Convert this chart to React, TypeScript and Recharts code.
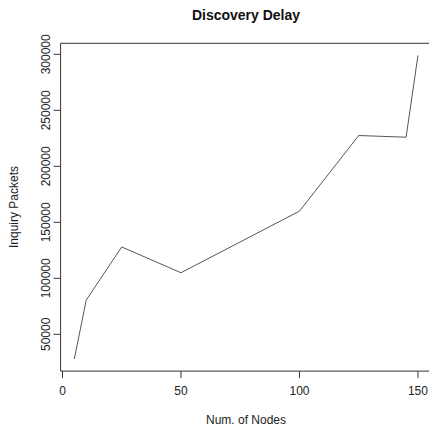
import React from "react";
import { LineChart, Line, XAxis, YAxis, ReferenceArea } from "recharts";

const nodes = [5, 10, 25, 50, 100, 125, 145, 150];
const packets = [28000, 80500, 128000, 105000, 160000, 227500, 226000, 299000];
const xTicks = [0, 50, 100, 150];
const yTicks = [50000, 100000, 150000, 200000, 250000, 300000];

const data = nodes.map((n, i) => ({ nodes: n, packets: packets[i] }));

// R style: axis range padded by 4% on each side
const xDomain: [number, number] = [-0.8, 155.8];
const yDomain: [number, number] = [17160, 309840];

const font = "'Liberation Sans', Arial, sans-serif";
const ink = "#333";

const XTick = (props: any) => {
  const { x, y, payload } = props;
  return (
    <text x={x} y={y} dy={14.5} textAnchor="middle" fontSize={12} fontFamily={font} fill="#222">
      {payload.value}
    </text>
  );
};

const YTick = (props: any) => {
  const { x, y, payload } = props;
  const bx = x - 1.5;
  return (
    <text
      x={bx}
      y={y}
      transform={`rotate(-90, ${bx}, ${y})`}
      textAnchor="middle"
      fontSize={12}
      fontFamily={font}
      fill="#222"
    >
      {payload.value}
    </text>
  );
};

export default function App() {
  return (
    <div
      style={{
        position: "absolute",
        left: 0,
        top: 0,
        width: 429,
        height: 427,
        overflow: "hidden",
        background: "#fff",
      }}
    >
      <LineChart
        width={440}
        height={427}
        data={data}
        margin={{ top: 43.3, right: 8.3, bottom: 25.9, left: 0 }}
      >
        <XAxis
          dataKey="nodes"
          type="number"
          domain={xDomain}
          ticks={xTicks}
          interval={0}
          allowDataOverflow
          axisLine={false}
          tickLine={{ stroke: ink }}
          tickSize={7}
          tickMargin={2}
          height={30}
          tick={<XTick />}
        />
        <YAxis
          type="number"
          domain={yDomain}
          ticks={yTicks}
          interval={0}
          allowDataOverflow
          axisLine={false}
          tickLine={{ stroke: ink }}
          tickSize={7}
          tickMargin={2}
          width={60.6}
          tick={<YTick />}
        />
        <ReferenceArea
          x1={xDomain[0]}
          x2={xDomain[1]}
          y1={yDomain[0]}
          y2={yDomain[1]}
          fill="none"
          fillOpacity={0}
          stroke={ink}
          strokeWidth={1}
        />
        <Line
          type="linear"
          dataKey="packets"
          stroke="#555"
          strokeWidth={1}
          dot={false}
          isAnimationActive={false}
        />
      </LineChart>
      <svg
        width={429}
        height={427}
        style={{ position: "absolute", left: 0, top: 0, pointerEvents: "none" }}
      >
        <text x={246} y={20} textAnchor="middle" fontSize={14} fontWeight="bold" fontFamily={font} fill="#111">
          Discovery Delay
        </text>
        <text x={246} y={424} textAnchor="middle" fontSize={12} fontFamily={font} fill="#222">
          Num. of Nodes
        </text>
        <text
          x={17.5}
          y={207}
          transform="rotate(-90, 17.5, 207)"
          textAnchor="middle"
          fontSize={12}
          fontFamily={font}
          fill="#222"
        >
          Inquiry Packets
        </text>
      </svg>
    </div>
  );
}
